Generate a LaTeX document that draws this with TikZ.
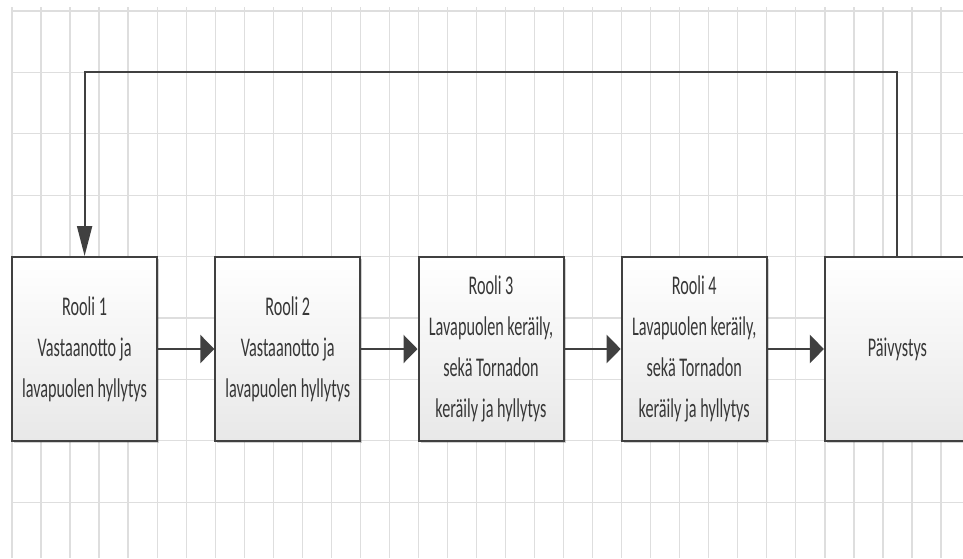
\documentclass[tikz,border=0pt]{standalone}
\usepackage{fontspec}
\usepackage{tikz}
\usetikzlibrary{arrows.meta, shadows}
\newfontfamily\boxfont[FakeStretch=0.6]{Carlito}
\definecolor{gridgray}{RGB}{222,222,222}
\definecolor{linegray}{RGB}{64,64,64}
\definecolor{textgray}{RGB}{55,55,55}
\tikzset{
    rolebox/.style={draw=linegray, line width=2pt, top color=white, bottom color=black!9,
        minimum width=145pt, minimum height=184pt, inner sep=0pt, align=center,
        text=textgray, font=\boxfont\fontsize{27}{41}\selectfont,
        drop shadow={shadow xshift=2pt, shadow yshift=-2pt, fill=black, opacity=0.18}},
    arrright/.style={draw=linegray, line width=2.5pt, -{Triangle[length=14pt, width=28pt]}},
    arrdown/.style={draw=linegray, line width=2pt, -{Triangle[length=30pt, width=15pt]}}
}

\begin{document}
\begin{tikzpicture}[x=1pt, y=-1pt]
                \useasboundingbox (0,0) rectangle (963,558);
                \clip (0,0) rectangle (963,558);

                % grid
                \foreach \k in {0,...,32}
                    \draw[gridgray, line width=1.3pt] ({12+29.03*\k}, 7) -- ({12+29.03*\k}, 558);
                \foreach \k in {0,...,8}
                    \draw[gridgray, line width=1.3pt] (12, {11+61.4*\k}) -- (963, {11+61.4*\k});

                \node[rolebox] (rooli1) at (84.6, 349) {Rooli 1\\Vastaanotto ja\\lavapuolen hyllytys};
                \node[rolebox] (rooli2) at (287.8, 349) {Rooli 2\\Vastaanotto ja\\lavapuolen hyllytys};
                \node[rolebox] (rooli3) at (491, 349) {Rooli 3\\Lavapuolen keräily,\\sekä Tornadon\\keräily ja hyllytys};
                \node[rolebox] (rooli4) at (694.2, 349) {Rooli 4\\Lavapuolen keräily,\\sekä Tornadon\\keräily ja hyllytys};
                \node[rolebox] (paivystys) at (897.4, 349) {Päivystys};

                \draw[arrright] (rooli1) -- (rooli2);
                \draw[arrright] (rooli2) -- (rooli3);
                \draw[arrright] (rooli3) -- (rooli4);
                \draw[arrright] (rooli4) -- (paivystys);

                \coordinate (top) at (0, 72.4); % return line
                \draw[arrdown] (paivystys.north) -- (paivystys.north |- top)
                    -- (rooli1.north |- top) -- (rooli1.north);
            \end{tikzpicture}
\end{document}
